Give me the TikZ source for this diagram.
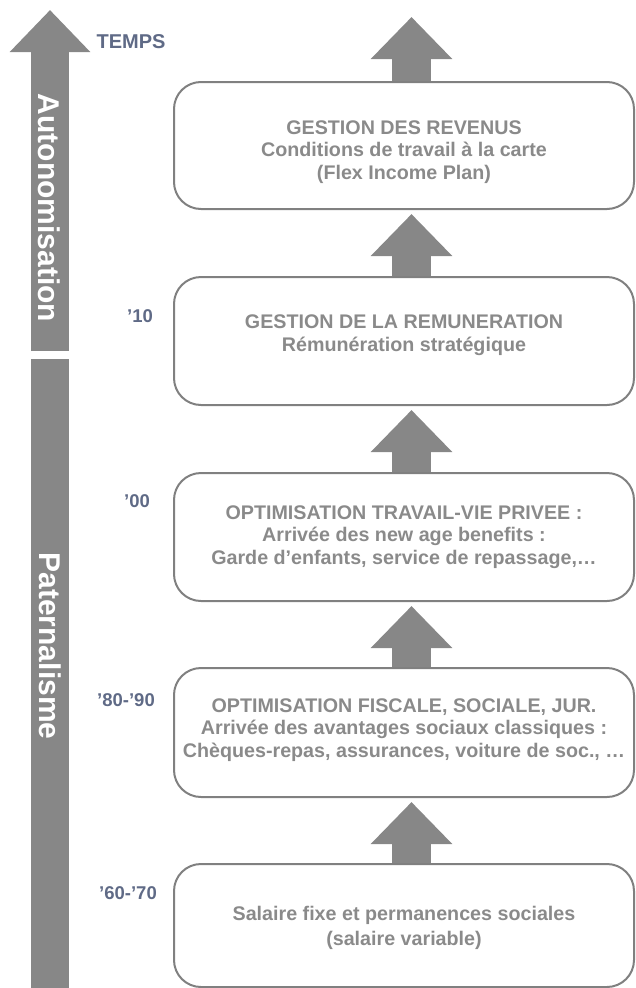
\documentclass[tikz,border=0pt]{standalone}
\usepackage{fontspec}
\setmainfont{Liberation Sans}
\usetikzlibrary{arrows.meta,calc}
\definecolor{arrowgray}{HTML}{878787}
\definecolor{boxline}{HTML}{808080}
\definecolor{boxtxt}{HTML}{8A8A8A}
\definecolor{slate}{HTML}{5F6A86}
\begin{document}
\begin{tikzpicture}[x=1pt,y=-1pt,
  box/.style={draw=boxline, line width=2pt, rounded corners=27pt, minimum width=460pt, inner sep=0pt},
  boxtext/.style={text=boxtxt, font=\fontsize{19.7}{22.5}\selectfont\bfseries, align=center, inner sep=0pt},
  yearlbl/.style={text=slate, font=\fontsize{18.5}{22}\selectfont\bfseries, inner sep=0pt},
  bigarrow/.style={draw=arrowgray, line width=39pt, -{Triangle[length=42pt,width=79pt]}},
  timearrow/.style={draw=arrowgray, line width=38pt, -{Triangle[length=42pt,width=78pt]}},
  timebar/.style={draw=arrowgray, line width=38pt},
  phase/.style={text=white, font=\fontsize{30}{30}\selectfont\bfseries, rotate=-90, inner sep=0pt}
]
\useasboundingbox (0,0) rectangle (635,988);

% time axis
\coordinate (ltip) at (50,10);
\coordinate (lbase) at (50,351);
\coordinate (lgap) at (50,359);
\coordinate (lend) at (50,995);
\draw[timearrow] (lbase) -- (ltip);
\draw[timebar] (lend) -- (lgap);
\node[phase] (auto) at (49,208) {Autonomisation};
\node[phase] (pat) at (50,646) {Paternalisme};
\node[text=slate, font=\fontsize{20}{22}\selectfont\bfseries, inner sep=0pt] (temps) at (131,42) {TEMPS};

% year labels
\node[yearlbl] (y10) at (140,316) {’10};
\node[yearlbl] (y00) at (137,501) {’00};
\node[yearlbl] (y80) at (126,700) {’80-’90};
\node[yearlbl] (y60) at (128,893) {’60-’70};

% boxes
\node[box, minimum height=127pt] (b1) at (404,145.5) {};
\node[box, minimum height=128pt] (b2) at (404,341) {};
\node[box, minimum height=128pt] (b3) at (404,537) {};
\node[box, minimum height=129pt] (b4) at (404,732.5) {};
\node[box, minimum height=123pt] (b5) at (404,925.5) {};

\node[boxtext] (t1) at (404,152) {GESTION DES REVENUS\\Conditions de travail à la carte\\(Flex Income Plan)};
\node[boxtext] (t2) at (404,335) {GESTION DE LA REMUNERATION\\Rémunération stratégique};
\node[boxtext] (t3) at (404,537) {OPTIMISATION TRAVAIL-VIE PRIVEE :\\Arrivée des new age benefits :\\Garde d’enfants, service de repassage,…};
\node[boxtext] (t4) at (404,730) {OPTIMISATION FISCALE, SOCIALE, JUR.\\Arrivée des avantages sociaux classiques :\\Chèques-repas, assurances, voiture de soc., …};
\node[boxtext, font=\fontsize{19.7}{25}\selectfont\bfseries] (t5) at (404,927.5) {Salaire fixe et permanences sociales\\(salaire variable)};

% connectors
\coordinate (ax) at (411.5,17);
\draw[bigarrow] (b1.north -| ax) -- (ax);
\draw[bigarrow] (b2.north -| ax) -- ($(b1.south -| ax)+(0,4)$);
\draw[bigarrow] (b3.north -| ax) -- ($(b2.south -| ax)+(0,4)$);
\draw[bigarrow] (b4.north -| ax) -- ($(b3.south -| ax)+(0,4)$);
\draw[bigarrow] (b5.north -| ax) -- ($(b4.south -| ax)+(0,4)$);
\end{tikzpicture}
\end{document}
